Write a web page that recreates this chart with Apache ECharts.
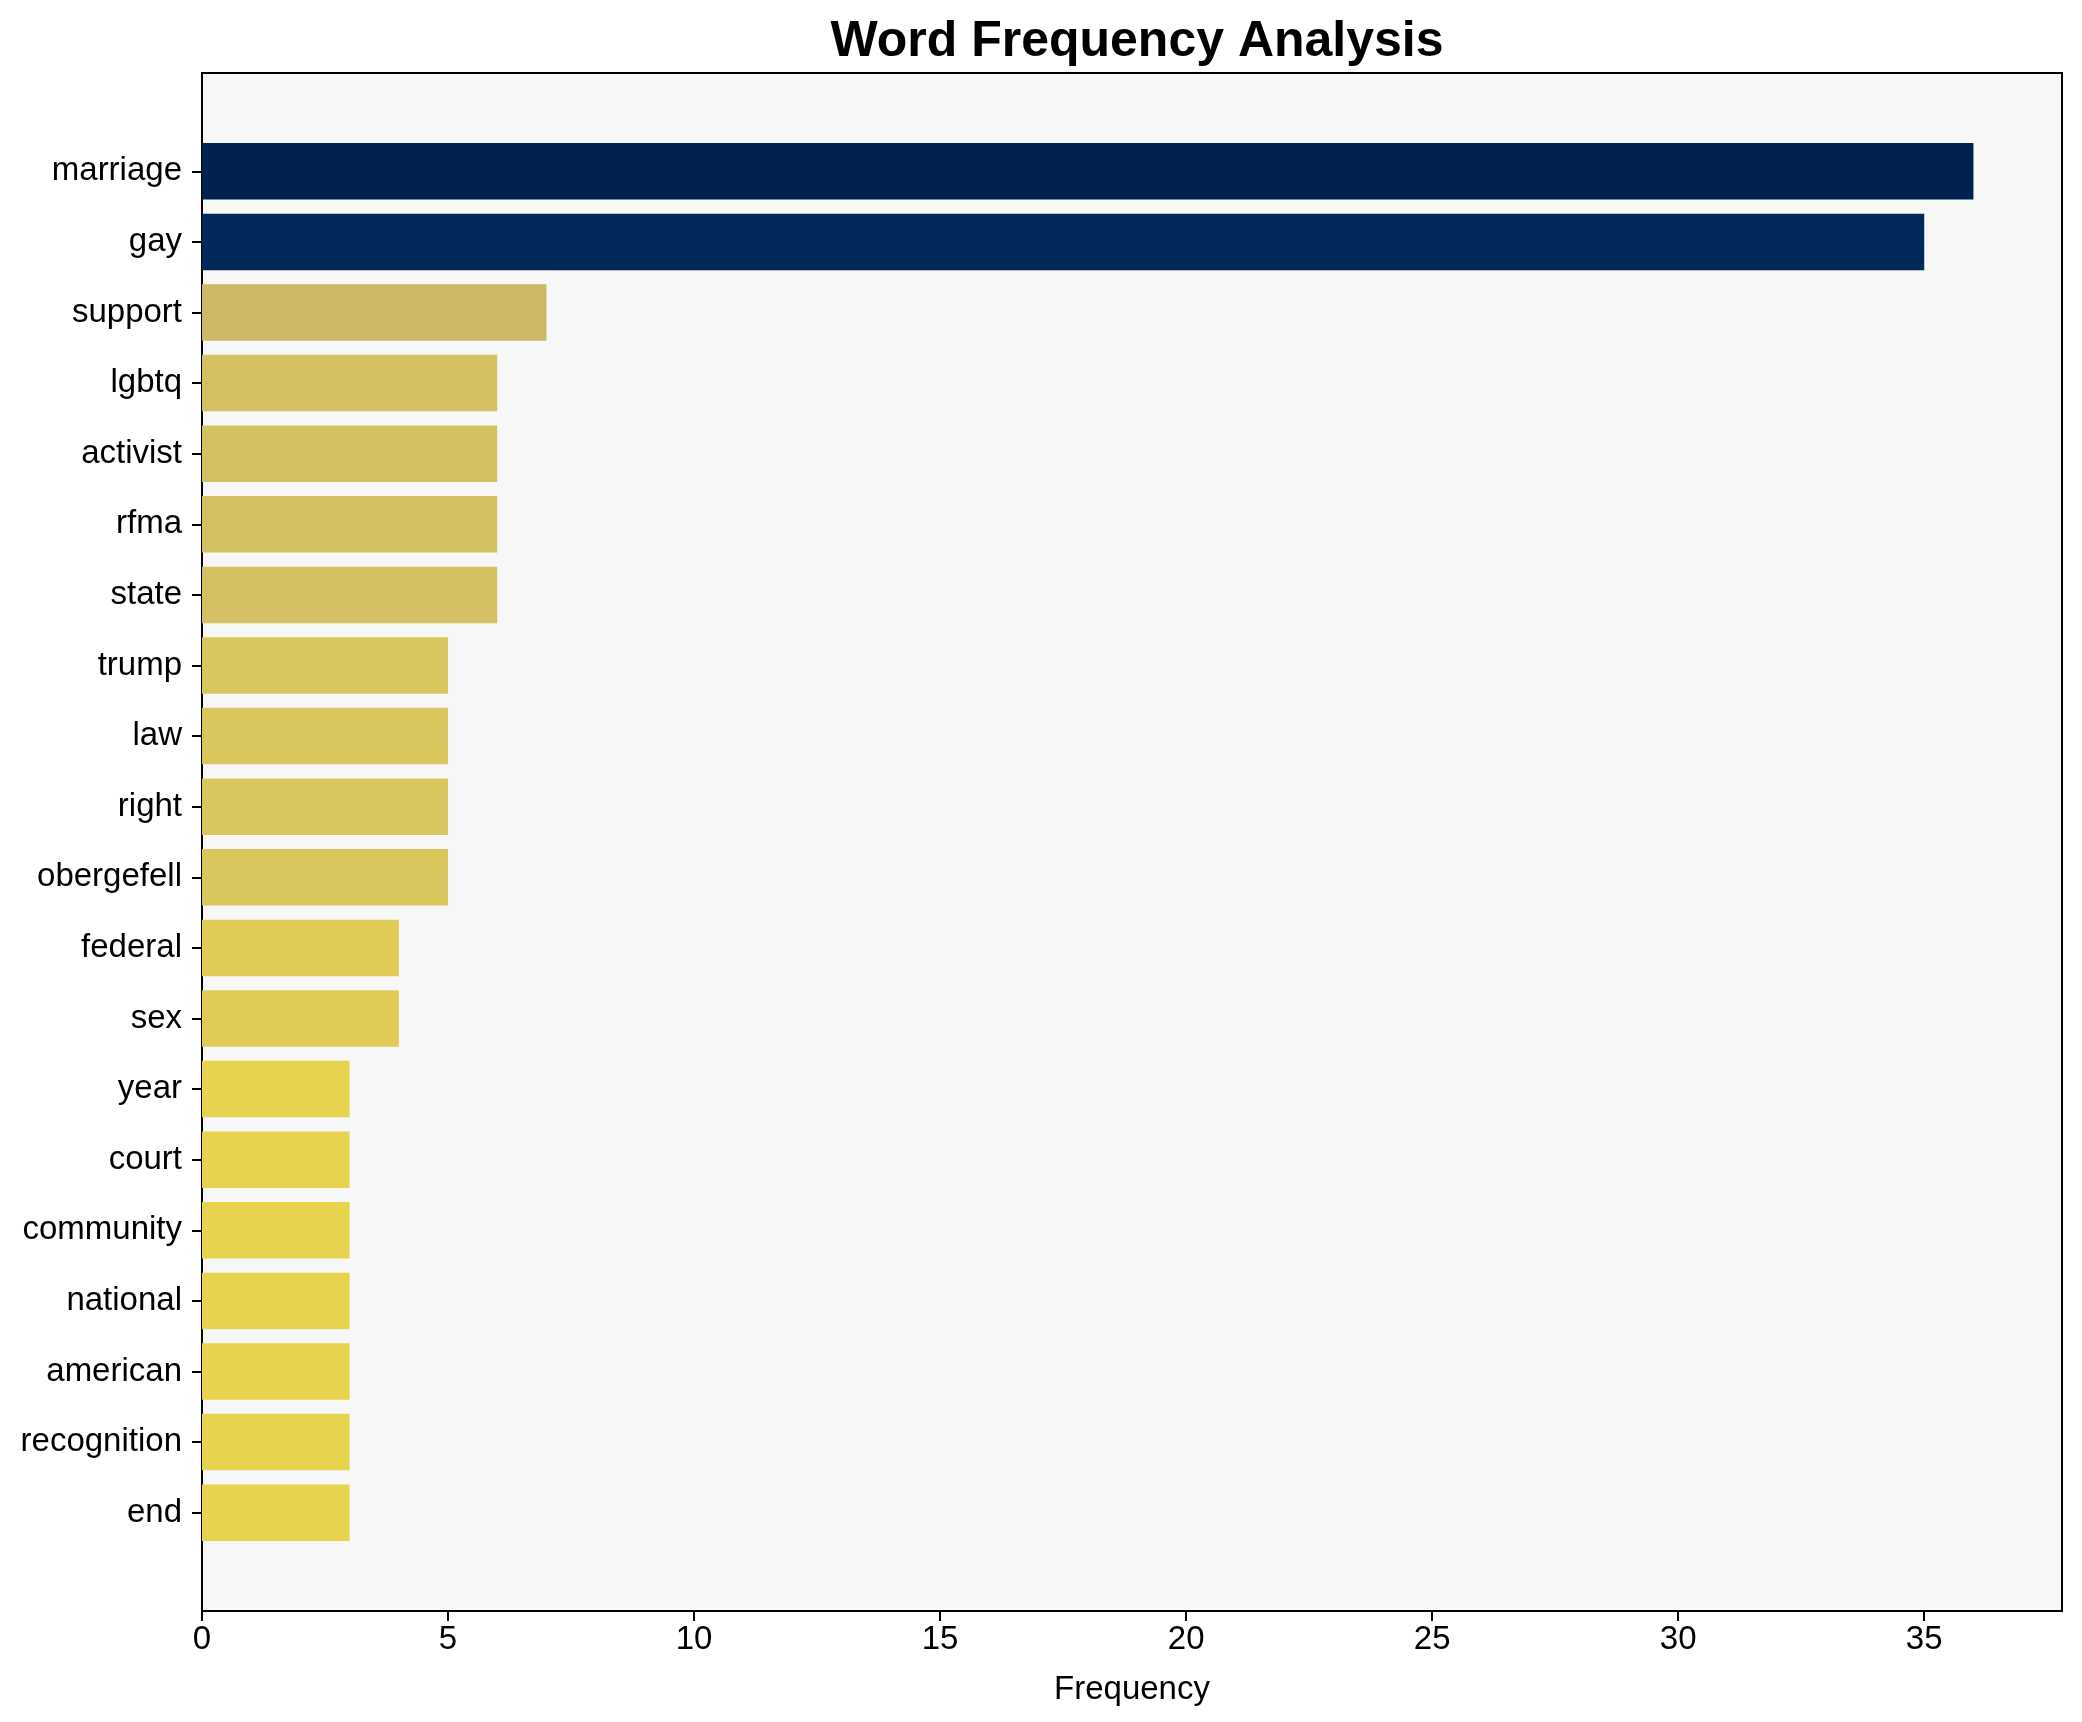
<!DOCTYPE html>
<html>
<head>
<meta charset="utf-8">
<script src="https://cdn.jsdelivr.net/npm/echarts@6/dist/echarts.min.js"></script>
<style>
html,body{margin:0;padding:0;background:#fff;}
#chart{width:2082px;height:1722px;}
</style>
</head>
<body>
<div id="chart"></div>
<script>
const words = ["marriage","gay","support","lgbtq","activist","rfma","state","trump","law","right","obergefell","federal","sex","year","court","community","national","american","recognition","end"];
const freq = [36,35,7,6,6,6,6,5,5,5,5,4,4,3,3,3,3,3,3,3];
const xTicks = [0,5,10,15,20,25,30,35];
const titleText = "Word Frequency Analysis";
const xLabel = "Frequency";

// styling
const colorByValue = {36:"#00224e",35:"#002859",7:"#cbb967",6:"#d3c164",5:"#d9c65c",4:"#dfcb56",3:"#e8d34f"};
const FONT = "Liberation Sans, Arial, sans-serif";
const xMax = Math.max(...freq) * 1.05;

const chart = echarts.init(document.getElementById('chart'), null, {renderer:'canvas'});
const option = {
  animation:false,
  backgroundColor:'#ffffff',
  title:{
    text:titleText, left:1132, top:12, textAlign:'center',
    textStyle:{fontFamily:FONT,fontWeight:'bold',fontSize:50,color:'#000'}
  },
  grid:[
    {left:202,right:20,top:73,bottom:111,show:true,backgroundColor:'#f7f7f7',borderColor:'#000',borderWidth:2,containLabel:false},
    {left:202,right:20,top:136,bottom:174,containLabel:false}
  ],
  xAxis:[
    {gridIndex:0,type:'value',min:0,max:xMax,interval:5,
     axisLine:{show:false},
     axisTick:{show:true,length:10,customValues:xTicks,lineStyle:{color:'#000',width:2}},
     axisLabel:{show:true,margin:12,customValues:xTicks,fontFamily:FONT,fontSize:33,color:'#000',
       formatter:v=> xTicks.includes(v)? String(v):''},
     splitLine:{show:false},
     name:xLabel,nameLocation:'middle',nameGap:62,
     nameTextStyle:{fontFamily:FONT,fontSize:33,color:'#000'}},
    {gridIndex:1,type:'value',min:0,max:xMax,show:false,splitLine:{show:false}}
  ],
  yAxis:[
    {gridIndex:0,type:'value',show:false,splitLine:{show:false}},
    {gridIndex:1,type:'category',data:words,inverse:true,
     axisLine:{show:false},
     axisTick:{show:true,alignWithLabel:true,length:10,lineStyle:{color:'#000',width:2}},
     axisLabel:{margin:20,fontFamily:FONT,fontSize:33,color:'#000'},
     splitLine:{show:false}}
  ],
  series:[{
    type:'bar',xAxisIndex:1,yAxisIndex:1,
    barCategoryGap:'20%',
    data:freq.map(v=>({value:v,itemStyle:{color:colorByValue[v]}}))
  }]
};
chart.setOption(option);
</script>
</body>
</html>
